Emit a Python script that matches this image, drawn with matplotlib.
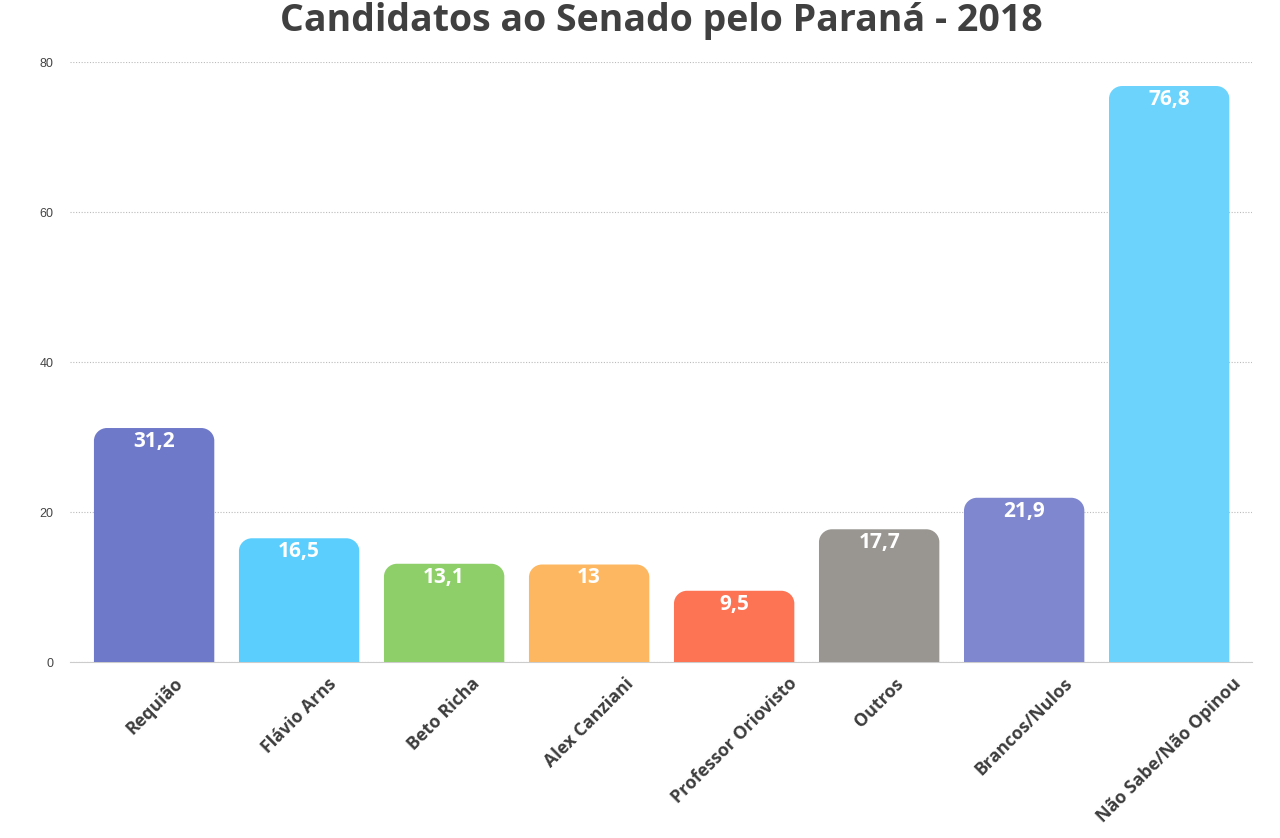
import matplotlib
matplotlib.use('Agg')
import matplotlib.pyplot as plt
from matplotlib.path import Path
from matplotlib.patches import PathPatch

candidatos = ["Requião", "Flávio Arns", "Beto Richa", "Alex Canziani",
              "Professor Oriovisto", "Outros", "Brancos/Nulos", "Não Sabe/Não Opinou"]
valores = [31.2, 16.5, 13.1, 13.0, 9.5, 17.7, 21.9, 76.8]
rotulos = ["31,2", "16,5", "13,1", "13", "9,5", "17,7", "21,9", "76,8"]
cores = ["#6f79c9", "#5bcefd", "#8ecf6a", "#fdb760", "#fd7455",
         "#999691", "#7f88cf", "#6cd3fd"]
yticks = [0, 20, 40, 60, 80]

plt.rcParams['font.family'] = ['Open Sans', 'DejaVu Sans']

fig = plt.figure(figsize=(12.8, 8.38), dpi=100)
ax = fig.add_axes([0.0547, 0.21, 0.9233, 0.716])


def rounded_top(x0, w, h, rx, ry):
    # bar with rounded top corners
    x1 = x0 + w
    k = 0.55
    verts = [(x0, 0), (x0, h - ry),
             (x0, h - ry + k * ry), (x0 + rx - k * rx, h), (x0 + rx, h),
             (x1 - rx, h),
             (x1 - rx + k * rx, h), (x1, h - ry + k * ry), (x1, h - ry),
             (x1, 0), (x0, 0)]
    codes = [Path.MOVETO, Path.LINETO,
             Path.CURVE4, Path.CURVE4, Path.CURVE4,
             Path.LINETO,
             Path.CURVE4, Path.CURVE4, Path.CURVE4,
             Path.LINETO, Path.CLOSEPOLY]
    return Path(verts, codes)


largura = 0.83
bars = ax.bar(range(len(valores)), valores, width=largura, color=cores)
for b, c in zip(bars, cores):
    b.set_visible(False)
    p = PathPatch(rounded_top(b.get_x(), b.get_width(), b.get_height(), 0.09, 1.7),
                  facecolor=c, edgecolor='none', zorder=3)
    ax.add_patch(p)

for i, (v, r) in enumerate(zip(valores, rotulos)):
    ax.annotate(r, (i, v), xytext=(0, -2), textcoords='offset points',
                ha='center', va='top', color='white', fontsize=15,
                fontweight='bold', zorder=4)

ax.set_xlim(-0.58, 7.57)
ax.set_ylim(0, 80)
ax.set_yticks(yticks)
ax.set_yticklabels([str(t) for t in yticks], fontsize=9, color='#444444',
                   family='Liberation Sans')
ax.yaxis.grid(True, linestyle=(0, (1, 1.5)), color='#bbbbbb', linewidth=0.8)
ax.set_axisbelow(True)
for s in ['top', 'right', 'left']:
    ax.spines[s].set_visible(False)
ax.spines['bottom'].set_color('#cccccc')
ax.tick_params(axis='y', length=0, pad=12)
ax.tick_params(axis='x', length=0, pad=9)

ax.set_xticks(range(len(candidatos)))
ax.set_xticklabels(candidatos, rotation=45, ha='center', va='top',
                   fontsize=12.8, fontweight='bold', color='#3d3d3d')

fig.text(0.517, 0.975, "Candidatos ao Senado pelo Paraná - 2018", ha='center',
         va='center', fontsize=27, fontweight='bold', color='#404040')

fig.savefig("out.png", dpi=100)
